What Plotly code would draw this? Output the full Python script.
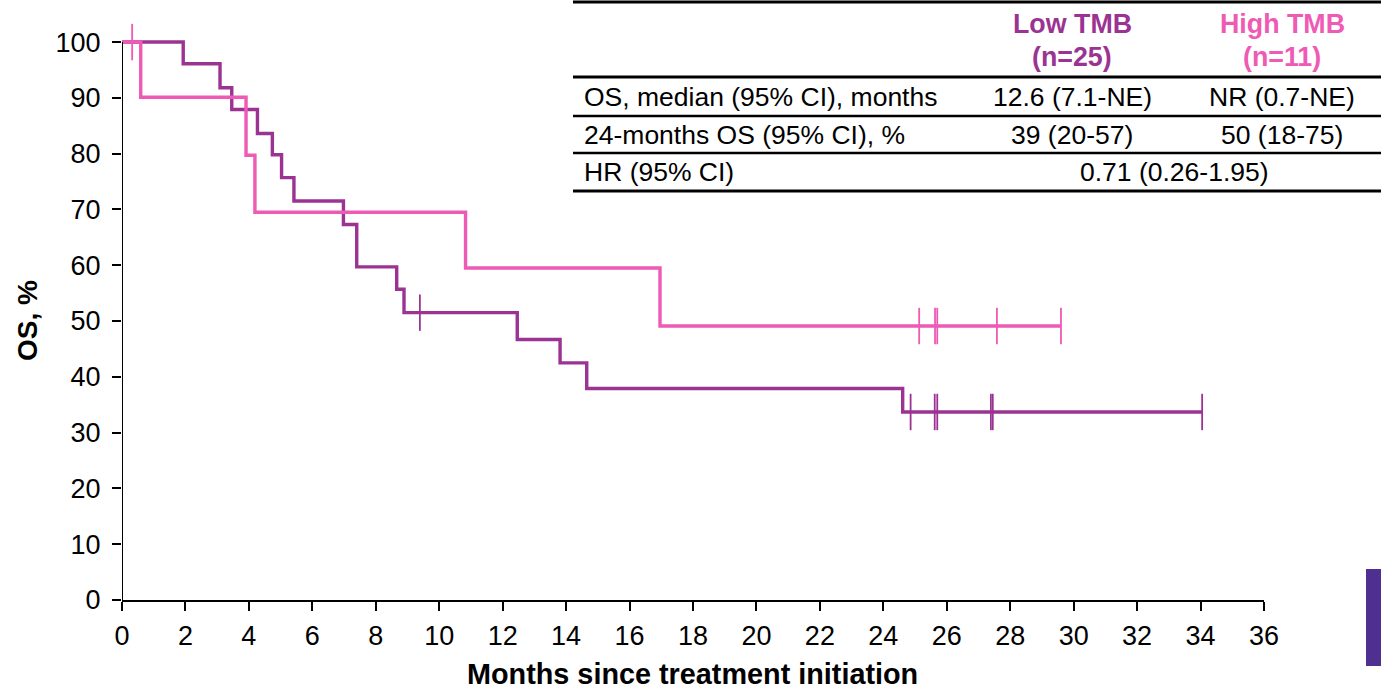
import plotly.graph_objects as go

# Kaplan-Meier overall survival, Low vs High TMB
low_times = [0, 1.93, 3.09, 3.46, 4.27, 4.74, 5.03, 5.42, 6.98, 7.40, 8.66, 8.89,
             12.46, 13.81, 14.65, 24.61, 34.05]
low_surv = [100, 96.1, 91.8, 87.9, 83.6, 79.8, 75.7, 71.5, 67.3, 59.7, 55.7, 51.5,
            46.7, 42.5, 37.9, 33.7, 33.7]
low_censor = [9.39, 24.86, 25.62, 25.70, 27.39, 27.45, 34.05]

high_times = [0, 0.59, 3.91, 4.19, 10.83, 16.96, 29.60]
high_surv = [100, 90.1, 79.7, 69.5, 59.5, 49.1, 49.1]
high_censor = [0.32, 25.13, 25.63, 25.70, 27.58, 29.60]

x_ticks = list(range(0, 37, 2))
y_ticks = list(range(0, 101, 10))

LOW_COLOR = "#9B3393"
HIGH_COLOR = "#EE5AB4"
FONT = "Liberation Sans, Arial, sans-serif"

W, H = 1381, 693
L, R, T, B = 122, 117, 3, 93
Y_MAX = 107


def surv_at(times, surv, t):
    s = surv[0]
    for ti, si in zip(times, surv):
        if ti <= t:
            s = si
    return s


def px_x(px):
    return (px - L) / (W - L - R)


def px_y(py):
    return (H - B - py) / (H - B - T)


fig = go.Figure()

for times, surv, cens, color, name in [
    (low_times, low_surv, low_censor, LOW_COLOR, "Low TMB"),
    (high_times, high_surv, high_censor, HIGH_COLOR, "High TMB"),
]:
    fig.add_trace(go.Scatter(
        x=times, y=surv, mode="lines", line=dict(color=color, width=3.4, shape="hv"),
        name=name, showlegend=False, hoverinfo="skip"))
    fig.add_trace(go.Scatter(
        x=cens, y=[surv_at(times, surv, t) for t in cens], mode="markers",
        marker=dict(symbol="line-ns", size=26, line=dict(color=color, width=1.8)),
        showlegend=False, hoverinfo="skip", cliponaxis=False))

# y axis line only from 0 to 100
fig.add_shape(type="line", xref="x", yref="y", x0=0, x1=0, y0=0, y1=100,
              line=dict(color="black", width=2))

# Summary table
for py, w in [(2, 3), (77, 3), (116, 2.5), (153, 2.5), (191, 3)]:
    fig.add_shape(type="line", xref="paper", yref="paper",
                  x0=px_x(573), x1=px_x(1381), y0=px_y(py), y1=px_y(py),
                  line=dict(color="black", width=w))

ann = []


def text(s, px, py, color="black", bold=False, xanchor="center", size=26.5):
    ann.append(dict(text=f"<b>{s}</b>" if bold else s, x=px_x(px), y=px_y(py),
                    xref="paper", yref="paper", xanchor=xanchor, yanchor="middle",
                    showarrow=False, font=dict(family=FONT, size=size, color=color)))


col_low, col_high = 1072, 1282
text("Low TMB", col_low, 24, LOW_COLOR, True, size=26.8)
text("(n=25)", col_low, 57, LOW_COLOR, True, size=26.8)
text("High TMB", col_high, 24, HIGH_COLOR, True, size=26.8)
text("(n=11)", col_high, 57, HIGH_COLOR, True, size=26.8)

rows = [
    ("OS, median (95% CI), months", "12.6 (7.1-NE)", "NR (0.7-NE)", 97),
    ("24-months OS (95% CI), %", "39 (20-57)", "50 (18-75)", 135),
]
for label, a, b, py in rows:
    text(label, 582, py, xanchor="left")
    text(a, col_low, py)
    text(b, col_high, py)
text("HR (95% CI)", 582, 172, xanchor="left")
text("0.71 (0.26-1.95)", 1174, 172)

# Axis titles
text("Months since treatment initiation", 692, 674, bold=True, size=28.8)
ann.append(dict(text="<b>OS, %</b>", x=px_x(27), y=px_y(321), xref="paper", yref="paper",
                xanchor="center", yanchor="middle", textangle=-90, showarrow=False,
                font=dict(family=FONT, size=28, color="black")))

# Corner accent bar
fig.add_shape(type="rect", xref="paper", yref="paper",
              x0=px_x(1366), x1=px_x(1381), y0=px_y(666), y1=px_y(569),
              fillcolor="#4F2F8F", line=dict(width=0))

fig.update_layout(
    width=W, height=H, margin=dict(l=L, r=R, t=T, b=B),
    paper_bgcolor="white", plot_bgcolor="white",
    annotations=ann, showlegend=False,
    font=dict(family=FONT, color="black"),
)
fig.update_xaxes(range=[0, 36], tickvals=x_ticks, ticks="outside", ticklen=9, tickwidth=2,
                 tickcolor="black", showline=True, linecolor="black", linewidth=2,
                 showgrid=False, zeroline=False, tickfont=dict(size=27, family=FONT),
                 ticklabelstandoff=2)
fig.update_yaxes(range=[0, Y_MAX], tickvals=y_ticks, ticks="outside", ticklen=9, tickwidth=2,
                 tickcolor="black", showline=False, showgrid=False, zeroline=False,
                 tickfont=dict(size=27, family=FONT), ticklabelstandoff=6)

fig.write_html("out.html")
